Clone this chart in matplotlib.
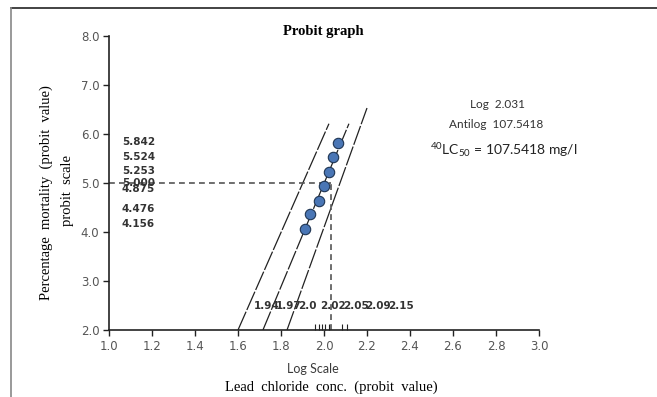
import matplotlib
matplotlib.use("Agg")
import matplotlib.pyplot as plt
from matplotlib.lines import Line2D

W, H = 657, 397

# points (log conc vs probit)
log_conc = [1.912, 1.935, 1.977, 2.000, 2.023, 2.042, 2.065]
probit = [4.07, 4.36, 4.64, 4.93, 5.23, 5.54, 5.82]

# fitted line and the two confidence limits (end points)
lower_x = [1.600, 2.023]
lower_y = [2.0, 6.21]
fit_x = [1.716, 2.116]
fit_y = [2.0, 6.21]
upper_x = [1.828, 2.200]
upper_y = [2.0, 6.53]

lc50_log = 2.031
lc50_probit = 5.0

probit_labels = ["5.842", "5.524", "5.253", "5.000", "4.875", "4.476", "4.156"]
conc_labels = ["1.94", "1.97", "2.0", "2.02", "2.05", "2.09", "2.15"]
minor_ticks = [1.958, 1.977, 1.991, 2.005, 2.023, 2.084, 2.107]

x_ticks = [1.0, 1.2, 1.4, 1.6, 1.8, 2.0, 2.2, 2.4, 2.6, 2.8, 3.0]
y_ticks = [2.0, 3.0, 4.0, 5.0, 6.0, 7.0, 8.0]


def fx(px):
    return px / W


def fy(py):
    return 1 - py / H


plt.rcParams["mathtext.default"] = "regular"

fig = plt.figure(figsize=(W / 100, H / 100), dpi=100)
ax = fig.add_axes([fx(109), fy(330), (539 - 109) / W, (330 - 36) / H])

# outer frame (cropped box)
fig.add_artist(Line2D([fx(11), 1.0], [fy(8), fy(8)], color="#222222", lw=1.2))
fig.add_artist(Line2D([fx(11), fx(11)], [0.0, fy(8)], color="#888888", lw=1.2))

for xs, ys in [(lower_x, lower_y), (fit_x, fit_y), (upper_x, upper_y)]:
    ln, = ax.plot(xs, ys, color="#222222", lw=0.9)
    ln.set_dashes([16, 1.5])

ax.plot([1.0, lc50_log], [lc50_probit, lc50_probit], color="#555555", lw=1.2,
        dashes=[3.5, 2.5])
ax.plot([lc50_log, lc50_log], [2.0, lc50_probit], color="#555555", lw=1.2,
        dashes=[3.5, 2.5])

ax.plot(log_conc, probit, "o", ms=7.5, mfc="#4a76b5", mec="#1f3553", mew=0.8,
        zorder=5)

ax.set_xlim(1.0, 3.0)
ax.set_ylim(2.0, 8.0)
ax.set_xticks(x_ticks)
ax.set_xticklabels([f"{v:.1f}" for v in x_ticks])
ax.set_yticks(y_ticks)
ax.set_yticklabels([f"{v:.1f}" for v in y_ticks])
ax.set_xticks(minor_ticks, minor=True)
ax.tick_params(axis="both", which="major", length=4, width=1, color="#222222",
               labelsize=8.5, labelcolor="#555555", pad=3)
ax.tick_params(axis="x", which="minor", direction="in", length=4, width=0.8,
               color="#222222")
for lab in ax.get_xticklabels() + ax.get_yticklabels():
    lab.set_fontfamily("DejaVu Sans")

for s in ["top", "right"]:
    ax.spines[s].set_visible(False)
for s in ["left", "bottom"]:
    ax.spines[s].set_color("#222222")
    ax.spines[s].set_linewidth(1.2)

# probit values written beside the y axis
for lab in probit_labels:
    ax.text(1.06, float(lab), lab, fontsize=7.5, fontweight="bold",
            color="#333333", family="DejaVu Sans", ha="left", va="center")

# crowded log-conc values above the x axis
for i, lab in enumerate(conc_labels):
    ax.text(1.672 + i * 0.104, 2.48, lab, fontsize=7.5, fontweight="bold",
            color="#333333", family="DejaVu Sans", ha="left", va="center")

fig.text(fx(323), fy(32), "Probit graph", family="Liberation Serif",
         fontweight="bold", fontsize=10.5, ha="center", va="center")

fig.text(fx(46), fy(193), "Percentage  mortality  (probit  value)",
         family="Liberation Serif", fontsize=10.5, rotation=90,
         ha="center", va="center")
fig.text(fx(68), fy(190), "probit  scale", family="Liberation Serif",
         fontsize=10.5, rotation=90, ha="center", va="center")

fig.text(fx(313), fy(369), "Log Scale", family="Lato", fontsize=9,
         color="#3a3a3a", ha="center", va="center")
fig.text(fx(331), fy(387), "Lead  chloride  conc.  (probit  value)",
         family="Liberation Serif", fontsize=10.5, ha="center", va="center")

fig.text(fx(497), fy(104), "Log  2.031", family="Lato", fontsize=8.5,
         color="#333333", ha="center", va="center")
fig.text(fx(496), fy(124), "Antilog  107.5418", family="Lato", fontsize=8.5,
         color="#333333", ha="center", va="center")
fig.text(fx(430), fy(150), r"$^{40}$LC$_{50}$ = 107.5418 mg/l", family="Lato",
         fontsize=10, color="#222222", ha="left", va="center")

fig.savefig("out.png", dpi=100)
